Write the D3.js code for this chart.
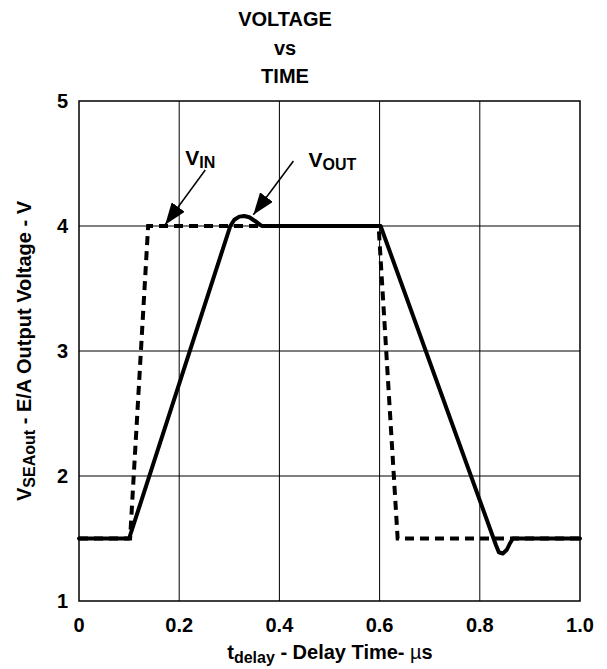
<!DOCTYPE html>
<html>
<head>
<meta charset="utf-8">
<script src="https://cdn.jsdelivr.net/npm/d3@7"></script>
<style>
  body { margin: 0; background: #fff; }
  text { font-family: "Liberation Sans", Arial, sans-serif; font-weight: bold; fill: #000; }
</style>
</head>
<body>
<div id="chart"></div>
<script>
// time in µs, voltage in V
const vinTime = [0, 0.102, 0.138, 0.598, 0.636, 1.0];
const vinVolt = [1.5, 1.5, 4.0, 4.0, 1.5, 1.5];

const voutTime = [0, 0.1, 0.302, 0.31, 0.32, 0.33, 0.34, 0.355, 0.365, 0.602, 0.832, 0.838, 0.846, 0.854, 0.86, 0.866, 1.0];
const voutVolt = [1.5, 1.5, 4.0, 4.05, 4.075, 4.08, 4.07, 4.03, 4.0, 4.0, 1.45, 1.39, 1.38, 1.41, 1.46, 1.5, 1.5];

const xTicks = [0, 0.2, 0.4, 0.6, 0.8, 1.0];
const yTicks = [1, 2, 3, 4, 5];

const width = 607;
const height = 669;
const margin = { top: 101, right: 27, bottom: 68, left: 79 };

const svg = d3.select("#chart").append("svg")
  .attr("width", width)
  .attr("height", height);

const x = d3.scaleLinear().domain([0, 1]).range([margin.left, width - margin.right]);
const y = d3.scaleLinear().domain([1, 5]).range([height - margin.bottom, margin.top]);

// grid
svg.append("g")
  .selectAll("line")
  .data(xTicks.slice(1, -1))
  .join("line")
  .attr("x1", d => x(d)).attr("x2", d => x(d))
  .attr("y1", y(5)).attr("y2", y(1))
  .attr("stroke", "#000").attr("stroke-width", 1);

svg.append("g")
  .selectAll("line")
  .data(yTicks.slice(1, -1))
  .join("line")
  .attr("x1", x(0)).attr("x2", x(1))
  .attr("y1", d => y(d)).attr("y2", d => y(d))
  .attr("stroke", "#000").attr("stroke-width", 1);

svg.append("rect")
  .attr("x", x(0)).attr("y", y(5))
  .attr("width", x(1) - x(0)).attr("height", y(1) - y(5))
  .attr("fill", "none").attr("stroke", "#000").attr("stroke-width", 1.5);

// tick labels
svg.append("g")
  .attr("font-size", "20px")
  .attr("text-anchor", "middle")
  .selectAll("text")
  .data(xTicks)
  .join("text")
  .attr("x", d => x(d))
  .attr("y", y(1) + 31)
  .text(d => d === 0 ? "0" : d.toFixed(1));

svg.append("g")
  .attr("font-size", "20px")
  .attr("text-anchor", "end")
  .selectAll("text")
  .data(yTicks)
  .join("text")
  .attr("x", x(0) - 11)
  .attr("y", d => y(d))
  .attr("dy", "0.36em")
  .text(d => d);

// series
const line = d3.line().x(d => x(d[0])).y(d => y(d[1]));

svg.append("path")
  .datum(vinTime.map((t, i) => [t, vinVolt[i]]))
  .attr("d", line)
  .attr("fill", "none")
  .attr("stroke", "#000")
  .attr("stroke-width", 4)
  .attr("stroke-dasharray", "9,6");

svg.append("path")
  .datum(voutTime.map((t, i) => [t, voutVolt[i]]))
  .attr("d", line)
  .attr("fill", "none")
  .attr("stroke", "#000")
  .attr("stroke-width", 4)
  .attr("stroke-linejoin", "round")
  .attr("stroke-linecap", "round");

// annotations
svg.append("defs").append("marker")
  .attr("id", "arrow")
  .attr("viewBox", "0 0 22 16")
  .attr("refX", 22).attr("refY", 8)
  .attr("markerWidth", 22).attr("markerHeight", 16)
  .attr("markerUnits", "userSpaceOnUse")
  .attr("orient", "auto")
  .append("path")
  .attr("d", "M0,0 L22,8 L0,16 Z")
  .attr("fill", "#000");

const notes = [
  { label: "V", sub: "IN", tx: 0.212, ty: 4.49, from: [0.252, 4.448], to: [0.172, 4.01] },
  { label: "V", sub: "OUT", tx: 0.458, ty: 4.47, from: [0.428, 4.52], to: [0.348, 4.09] }
];

notes.forEach(n => {
  svg.append("line")
    .attr("x1", x(n.from[0])).attr("y1", y(n.from[1]))
    .attr("x2", x(n.to[0])).attr("y2", y(n.to[1]))
    .attr("stroke", "#000").attr("stroke-width", 1.5)
    .attr("marker-end", "url(#arrow)");
  const t = svg.append("text")
    .attr("x", x(n.tx)).attr("y", y(n.ty))
    .attr("font-size", "21px");
  t.append("tspan").text(n.label);
  t.append("tspan").attr("font-size", "16px").attr("dy", 3).text(n.sub);
});

// titles
const title = ["VOLTAGE", "vs", "TIME"];
svg.append("g")
  .attr("font-size", "20px")
  .attr("text-anchor", "middle")
  .selectAll("text")
  .data(title)
  .join("text")
  .attr("x", 285)
  .attr("y", (d, i) => 26 + i * 28.5)
  .text(d => d);

const xt = svg.append("text")
  .attr("x", 330).attr("y", 659)
  .attr("text-anchor", "middle")
  .attr("font-size", "20px");
xt.append("tspan").text("t");
xt.append("tspan").attr("font-size", "16px").attr("dy", 4).text("delay");
xt.append("tspan").attr("dy", -4).text(" - Delay Time- ");
xt.append("tspan").attr("font-weight", "normal").text("\u00b5");
xt.append("tspan").text("s");

const yt = svg.append("text")
  .attr("transform", `translate(31,${(y(1) + y(5)) / 2}) rotate(-90)`)
  .attr("text-anchor", "middle")
  .attr("font-size", "20px");
yt.append("tspan").text("V");
yt.append("tspan").attr("font-size", "16px").attr("dy", 4).text("SEAout");
yt.append("tspan").attr("dy", -4).text(" - E/A Output Voltage - V");
</script>
</body>
</html>
